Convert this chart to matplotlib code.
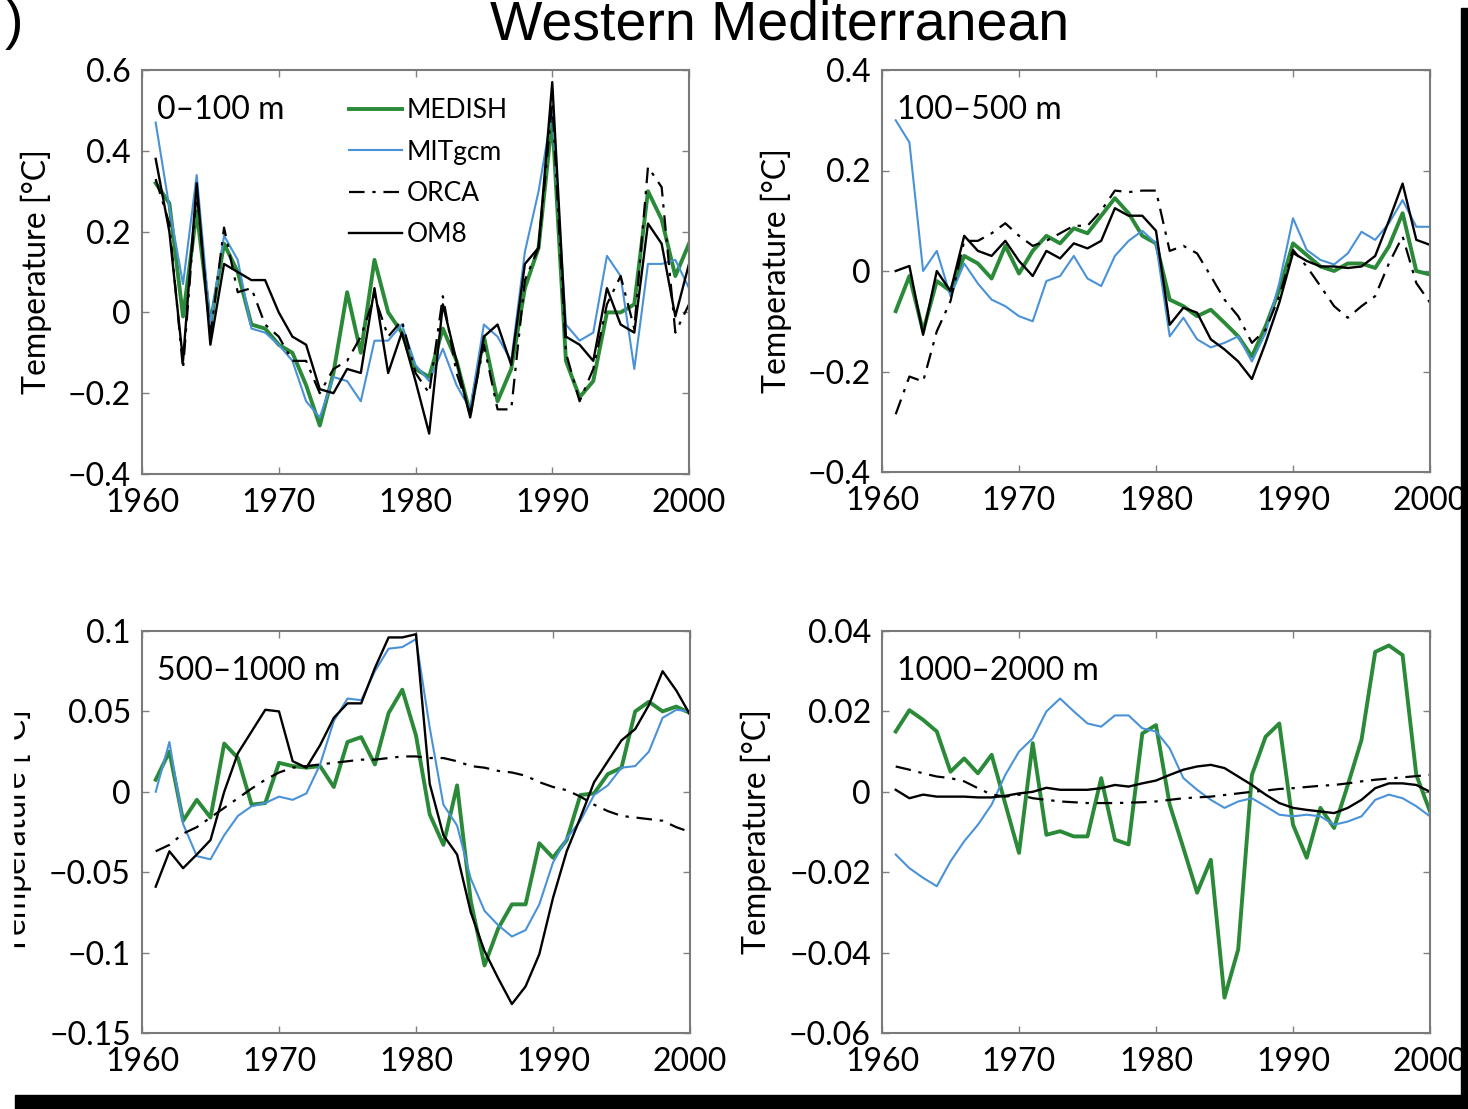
import numpy as np
import matplotlib
matplotlib.use('Agg')
import matplotlib.pyplot as plt
from matplotlib.patches import Rectangle

plt.rcParams['font.family'] = ['Lato', 'DejaVu Sans']

years = np.arange(1961, 2001)
model_names = ['MEDISH', 'MITgcm', 'ORCA', 'OM8']
depth_labels = ['0–100 m', '100–500 m', '500–1000 m', '1000–2000 m']

# 0-100 m
medish_0_100 = [0.32, 0.27, -0.01, 0.25, -0.03, 0.17, 0.10, -0.03, -0.04, -0.08,
                -0.10, -0.18, -0.28, -0.15, 0.05, -0.10, 0.13, 0.0, -0.05, -0.14,
                -0.16, -0.04, -0.12, -0.25, -0.06, -0.22, -0.14, 0.06, 0.16, 0.48,
                -0.12, -0.21, -0.17, 0.0, 0.0, 0.02, 0.30, 0.23, 0.09, 0.17]
mitgcm_0_100 = [0.47, 0.26, 0.07, 0.34, -0.03, 0.19, 0.13, -0.04, -0.05, -0.08,
                -0.12, -0.22, -0.26, -0.16, -0.17, -0.22, -0.07, -0.07, -0.03, -0.13,
                -0.17, -0.09, -0.18, -0.24, -0.03, -0.06, -0.12, 0.15, 0.30, 0.50,
                -0.03, -0.07, -0.05, 0.14, 0.09, -0.14, 0.12, 0.12, 0.13, 0.06]
orca_0_100 = [0.33, 0.22, -0.14, 0.30, -0.06, 0.21, 0.05, 0.06, -0.03, -0.06,
              -0.12, -0.12, -0.20, -0.14, -0.12, -0.06, 0.04, -0.06, -0.02, -0.15,
              -0.20, 0.04, -0.15, -0.25, -0.08, -0.24, -0.24, 0.08, 0.16, 0.52,
              -0.10, -0.22, -0.14, 0.02, 0.09, -0.04, 0.36, 0.31, -0.05, 0.02]
om8_0_100 = [0.38, 0.20, -0.12, 0.32, -0.08, 0.12, 0.10, 0.08, 0.08, 0.0,
             -0.06, -0.08, -0.19, -0.20, -0.14, -0.15, 0.06, -0.15, -0.05, -0.17,
             -0.30, 0.02, -0.12, -0.26, -0.06, -0.03, -0.13, 0.12, 0.16, 0.57,
             -0.06, -0.08, -0.12, 0.06, -0.03, -0.05, 0.22, 0.17, -0.01, 0.12]

# 100-500 m
medish_100_500 = [-0.08, -0.01, -0.12, -0.02, -0.04, 0.03, 0.015, -0.015, 0.05, -0.005,
                  0.04, 0.07, 0.055, 0.085, 0.075, 0.11, 0.145, 0.115, 0.07, 0.055,
                  -0.057, -0.07, -0.09, -0.077, -0.103, -0.13, -0.17, -0.11, -0.038, 0.055,
                  0.032, 0.009, 0.0, 0.015, 0.015, 0.006, 0.049, 0.115, 0.0, -0.007]
mitgcm_100_500 = [0.30, 0.256, 0.0, 0.04, -0.05, 0.015, -0.025, -0.057, -0.07, -0.09,
                  -0.10, -0.02, -0.01, 0.03, -0.015, -0.03, 0.03, 0.06, 0.08, 0.055,
                  -0.13, -0.093, -0.136, -0.152, -0.143, -0.13, -0.18, -0.123, -0.024, 0.105,
                  0.042, 0.022, 0.013, 0.035, 0.078, 0.062, 0.095, 0.141, 0.088, 0.088]
orca_100_500 = [-0.285, -0.21, -0.22, -0.12, -0.06, 0.06, 0.06, 0.075, 0.095, 0.07,
                0.05, 0.06, 0.075, 0.09, 0.09, 0.12, 0.16, 0.157, 0.16, 0.16,
                0.04, 0.05, 0.035, -0.01, -0.057, -0.09, -0.143, -0.117, -0.05, 0.042,
                0.009, -0.03, -0.07, -0.093, -0.07, -0.05, 0.015, 0.069, -0.024, -0.063]
om8_100_500 = [0.0, 0.01, -0.127, 0.0, -0.04, 0.07, 0.04, 0.03, 0.06, 0.02,
               -0.01, 0.04, 0.025, 0.055, 0.045, 0.06, 0.125, 0.11, 0.11, 0.08,
               -0.107, -0.073, -0.083, -0.136, -0.156, -0.18, -0.215, -0.143, -0.063, 0.036,
               0.02, 0.009, 0.009, 0.006, 0.009, 0.03, 0.10, 0.174, 0.062, 0.052]

# 500-1000 m
medish_500_1000 = [0.0075, 0.025, -0.018, -0.005, -0.016, 0.03, 0.021, -0.008, -0.007, 0.018,
                   0.016, 0.015, 0.016, 0.003, 0.031, 0.034, 0.017, 0.049, 0.0635, 0.035,
                   -0.014, -0.033, 0.004, -0.068, -0.108, -0.085, -0.07, -0.07, -0.032, -0.041,
                   -0.03, -0.002, -0.001, 0.011, 0.015, 0.05, 0.056, 0.05, 0.053, 0.049]
mitgcm_500_1000 = [0.0, 0.031, -0.02, -0.04, -0.042, -0.027, -0.015, -0.009, -0.007, -0.003,
                   -0.005, -0.001, 0.017, 0.044, 0.058, 0.057, 0.075, 0.089, 0.09, 0.095,
                   0.04, -0.008, -0.021, -0.054, -0.074, -0.083, -0.09, -0.086, -0.07, -0.044,
                   -0.029, -0.018, -0.002, 0.004, 0.015, 0.016, 0.025, 0.046, 0.051, 0.05]
orca_500_1000 = [-0.037, -0.033, -0.026, -0.022, -0.016, -0.01, -0.004, 0.002, 0.0075, 0.012,
                 0.015, 0.016, 0.017, 0.018, 0.019, 0.02, 0.02, 0.021, 0.022, 0.022,
                 0.021, 0.021, 0.019, 0.016, 0.015, 0.013, 0.012, 0.01, 0.006, 0.003,
                 0.001, -0.003, -0.008, -0.012, -0.015, -0.016, -0.017, -0.018, -0.022, -0.025]
om8_500_1000 = [-0.059, -0.037, -0.0475, -0.039, -0.03, 0.0, 0.024, 0.0375, 0.051, 0.05,
                0.019, 0.015, 0.029, 0.046, 0.055, 0.055, 0.077, 0.096, 0.096, 0.098,
                0.005, -0.027, -0.039, -0.075, -0.099, -0.116, -0.132, -0.121, -0.101, -0.066,
                -0.037, -0.016, 0.006, 0.019, 0.032, 0.039, 0.054, 0.075, 0.063, 0.048]

# 1000-2000 m
medish_1000_2000 = [0.015, 0.0203, 0.0179, 0.015, 0.005, 0.0083, 0.0046, 0.0092, -0.003, -0.0152,
                    0.0121, -0.0107, -0.0098, -0.0111, -0.0111, 0.0034, -0.0119, -0.0131, 0.0145, 0.0166,
                    -0.0032, -0.014, -0.0251, -0.0169, -0.0512, -0.0392, 0.0042, 0.0137, 0.017, -0.0082,
                    -0.0164, -0.004, -0.009, 0.0017, 0.0129, 0.0348, 0.0364, 0.034, 0.0042, -0.0049]
mitgcm_1000_2000 = [-0.0156, -0.019, -0.0214, -0.0235, -0.0173, -0.0123, -0.0082, -0.0032, 0.0042, 0.01,
                    0.0133, 0.02, 0.0232, 0.02, 0.017, 0.0162, 0.019, 0.019, 0.0158, 0.015,
                    0.0108, 0.0034, 0.0005, -0.002, -0.004, -0.0024, -0.0016, -0.0036, -0.0057, -0.0061,
                    -0.0057, -0.0061, -0.0082, -0.0074, -0.0061, -0.002, -0.0007, -0.0016, -0.0036, -0.0061]
orca_1000_2000 = [0.0063, 0.0055, 0.0046, 0.0038, 0.0034, 0.0026, 0.0009, -0.0007, -0.0012, -0.0007,
                  -0.0016, -0.002, -0.0024, -0.0026, -0.0028, -0.0028, -0.0028, -0.0027, -0.0026, -0.0024,
                  -0.002, -0.0016, -0.0014, -0.0012, -0.0008, -0.0004, 0.0, 0.0003, 0.0007, 0.0009,
                  0.0012, 0.0015, 0.0017, 0.0021, 0.0026, 0.003, 0.0033, 0.0036, 0.0039, 0.0042]
om8_1000_2000 = [0.0005, -0.0016, -0.0007, -0.0012, -0.0012, -0.0012, -0.0014, -0.0014, -0.001, -0.0004,
                 0.0, 0.001, 0.0005, 0.0005, 0.0005, 0.0009, 0.0017, 0.0013, 0.0021, 0.0028,
                 0.0042, 0.0055, 0.0063, 0.0067, 0.0059, 0.0038, 0.0017, -0.0007, -0.0028, -0.004,
                 -0.0045, -0.0049, -0.0053, -0.004, -0.002, 0.0009, 0.0021, 0.0021, 0.0017, 0.0]

# axis ticks / labels
xticks = [1960, 1970, 1980, 1990, 2000]
yticks_0_100 = [-0.4, -0.2, 0, 0.2, 0.4, 0.6]
ylabels_0_100 = ['−0.4', '−0.2', '0', '0.2', '0.4', '0.6']
yticks_100_500 = [-0.4, -0.2, 0, 0.2, 0.4]
ylabels_100_500 = ['−0.4', '−0.2', '0', '0.2', '0.4']
yticks_500_1000 = [-0.15, -0.1, -0.05, 0, 0.05, 0.1]
ylabels_500_1000 = ['−0.15', '−0.1', '−0.05', '0', '0.05', '0.1']
yticks_1000_2000 = [-0.06, -0.04, -0.02, 0, 0.02, 0.04]
ylabels_1000_2000 = ['−0.06', '−0.04', '−0.02', '0', '0.02', '0.04']

series = [
    [medish_0_100, mitgcm_0_100, orca_0_100, om8_0_100],
    [medish_100_500, mitgcm_100_500, orca_100_500, om8_100_500],
    [medish_500_1000, mitgcm_500_1000, orca_500_1000, om8_500_1000],
    [medish_1000_2000, mitgcm_1000_2000, orca_1000_2000, om8_1000_2000],
]
yticks = [yticks_0_100, yticks_100_500, yticks_500_1000, yticks_1000_2000]
ylabels = [ylabels_0_100, ylabels_100_500, ylabels_500_1000, ylabels_1000_2000]

# styling
line_styles = [
    dict(color='#2a8a38', lw=2.8, ls='-'),
    dict(color='#4a92d8', lw=1.5, ls='-'),
    dict(color='black', lw=1.6, ls=(0, (7, 3.5, 1.5, 3.5))),
    dict(color='black', lw=1.7, ls='-'),
]
ax_rects = [
    [142 / 1468, 1 - 474 / 1109, 547 / 1468, 404 / 1109],
    [882 / 1468, 1 - 472 / 1109, 548 / 1468, 402 / 1109],
    [142 / 1468, 1 - 1033 / 1109, 548 / 1468, 402 / 1109],
    [882 / 1468, 1 - 1033 / 1109, 548 / 1468, 402 / 1109],
]
ylabel_x = [-0.165, -0.164, -0.20, -0.20]

fig = plt.figure(figsize=(14.68, 11.09), dpi=100)

for i in range(4):
    ax = fig.add_axes(ax_rects[i])
    for j in range(4):
        ax.plot(years, series[i][j], label=model_names[j], **line_styles[j])
    ax.set_xlim(1960, 2000)
    ax.set_ylim(yticks[i][0], yticks[i][-1])
    ax.set_xticks(xticks)
    ax.set_xticklabels([str(x) for x in xticks])
    ax.set_yticks(yticks[i])
    ax.set_yticklabels(ylabels[i])
    ax.tick_params(direction='in', top=True, right=True, length=5, width=1,
                   color='#808080', labelsize=23)
    ax.tick_params(axis='x', pad=10)
    ax.tick_params(axis='y', pad=8)
    for sp in ax.spines.values():
        sp.set_color('#7a7a7a')
        sp.set_linewidth(1.5)
    ax.set_ylabel('Temperature [°C]', fontsize=23)
    ax.yaxis.set_label_coords(ylabel_x[i], 0.5)
    ax.text(0.027, 0.9, depth_labels[i], transform=ax.transAxes,
            fontsize=23, va='center', ha='left')
    if i == 0:
        ax.legend(loc='upper left', bbox_to_anchor=(0.378, 0.93), frameon=False,
                  fontsize=19, borderpad=0, borderaxespad=0, handlelength=2.0,
                  handletextpad=0.2, labelspacing=0.62)

fig.text(0.531, 1 - 40 / 1109, 'Western Mediterranean', family='Liberation Sans',
         fontsize=40, ha='center', va='baseline')
fig.text(23 / 1468, 1 - 38 / 1109, ')', family='Liberation Sans',
         fontsize=40, ha='right', va='baseline')

# scan artefacts: cut-off left strip and black borders
fig.add_artist(Rectangle((0, (1109 - 1000) / 1109), 13 / 1468, 400 / 1109,
                         transform=fig.transFigure, color='white', zorder=5))
fig.add_artist(Rectangle((15 / 1468, 0), 1, 14 / 1109,
                         transform=fig.transFigure, color='black', zorder=5))
fig.add_artist(Rectangle((1461 / 1468, 0), 7 / 1468, 1 - 8 / 1109,
                         transform=fig.transFigure, color='black', zorder=5))

fig.savefig('out.png', dpi=100)
